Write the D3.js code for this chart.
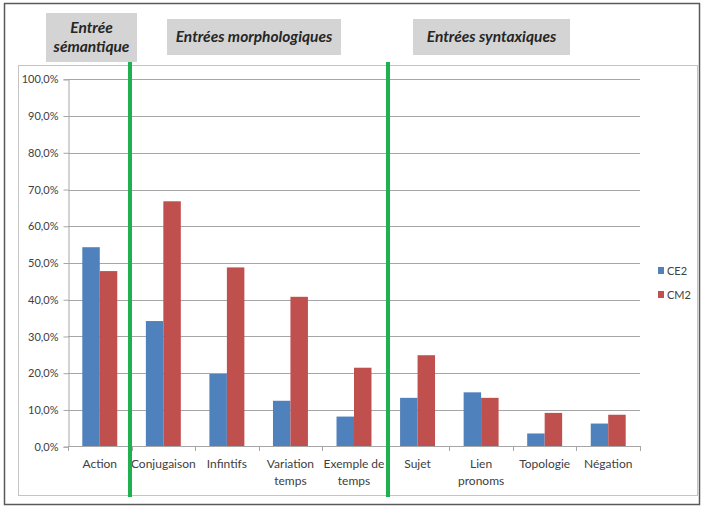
<!DOCTYPE html>
<html><head><meta charset="utf-8">
<script src="https://cdn.jsdelivr.net/npm/d3@7"></script>
<style>body{margin:0;background:#fff}svg{display:block}</style>
</head><body>
<script>
const categories = [["Action"],["Conjugaison"],["Infintifs"],["Variation","temps"],["Exemple de","temps"],["Sujet"],["Lien","pronoms"],["Topologie"],["Négation"]];
const seriesNames = ["CE2","CM2"];
const ce2 = [54.3,34.2,19.8,12.5,8.2,13.3,14.8,3.6,6.3];
const cm2 = [47.8,66.8,48.8,40.8,21.5,24.9,13.3,9.2,8.7];
const yTicks = [0,10,20,30,40,50,60,70,80,90,100];
const headers = [
  {lines:["Entrée","sémantique"]},
  {lines:["Entrées morphologiques"]},
  {lines:["Entrées syntaxiques"]}
];
const colors = ["#4f81bd","#c0504d"];

const W=703,H=508;
const svg=d3.select("body").append("svg").attr("width",W).attr("height",H);
const font="Lato, 'Open Sans', sans-serif";

svg.append("rect").attr("x",4.5).attr("y",3.5).attr("width",695).attr("height",501).attr("fill","#fff").attr("stroke","#5a5a5a").attr("stroke-width",1.5);
svg.append("rect").attr("x",18.5).attr("y",65.5).attr("width",679).attr("height",430).attr("fill","#fff").attr("stroke","#c4c4c4");

const x=d3.scaleBand().domain(d3.range(categories.length)).range([68,640]);
const y=d3.scaleLinear().domain([0,100]).range([446.7,79.3]);

svg.append("g").selectAll("line").data(yTicks.filter(d=>d>0)).join("line")
 .attr("x1",68).attr("x2",640).attr("y1",d=>Math.round(y(d))+0.5).attr("y2",d=>Math.round(y(d))+0.5)
 .attr("stroke","#a6a6a6").attr("stroke-width",1);

const yAxis=d3.axisLeft(y).tickValues(yTicks).tickSize(5).tickPadding(5)
  .tickFormat(d=>d3.format(".1f")(d).replace(".",",")+"%");
const gy=svg.append("g").attr("transform","translate(68.5,0)").call(yAxis);
gy.select(".domain").attr("stroke","#a6a6a6");
gy.selectAll(".tick line").attr("stroke","#a6a6a6");
gy.selectAll("text").attr("font-family",font).attr("font-size",11).attr("fill","#404040");

const bw=x.bandwidth()*0.275;
const g=svg.append("g");
[ce2,cm2].forEach((s,k)=>{
  g.selectAll(".b"+k).data(s).join("rect").attr("class","b"+k)
   .attr("x",(d,i)=>x(i)+x.bandwidth()/2+(k-1)*bw)
   .attr("width",bw).attr("y",d=>y(d)).attr("height",d=>y(0)-y(d)).attr("fill",colors[k]);
});

svg.append("line").attr("x1",68).attr("x2",640).attr("y1",446.5).attr("y2",446.5).attr("stroke","#a6a6a6");
svg.append("g").selectAll("line").data(d3.range(categories.length+1)).join("line")
 .attr("x1",i=>Math.round(68+i*x.step())+0.5).attr("x2",i=>Math.round(68+i*x.step())+0.5)
 .attr("y1",446).attr("y2",451).attr("stroke","#a6a6a6");
const lab=svg.append("g").selectAll("text").data(categories).join("text")
 .attr("x",(d,i)=>x(i)+x.bandwidth()/2).attr("y",468).attr("text-anchor","middle")
 .attr("font-family",font).attr("font-size",12).attr("fill","#404040");
lab.selectAll("tspan").data(d=>d).join("tspan").attr("x",function(){return this.parentNode.getAttribute("x")})
 .attr("dy",(d,i)=>i?17:0).text(d=>d);

[130,388].forEach(px=>{
  svg.append("line").attr("x1",px).attr("x2",px).attr("y1",62).attr("y2",497).attr("stroke","#1fb050").attr("stroke-width",4);
});

const boxes=[{x:46,y:13,w:91,h:49},{x:167,y:19,w:174,h:36},{x:413,y:19,w:157,h:36}];
boxes.forEach((b,i)=>{
  svg.append("rect").attr("x",b.x).attr("y",b.y).attr("width",b.w).attr("height",b.h).attr("fill","#d4d4d4");
  const t=svg.append("text").attr("text-anchor","middle").attr("font-family",font).attr("font-size",15.5)
   .attr("font-weight","bold").attr("font-style","italic").attr("fill","#262626");
  const L=headers[i].lines;
  L.forEach((s,j)=>{
    t.append("tspan").attr("x",b.x+b.w/2).attr("y",b.y+b.h/2+5+(j-(L.length-1)/2)*19).text(s);
  });
});

seriesNames.forEach((s,k)=>{
  const ly=271+k*24;
  svg.append("rect").attr("x",658).attr("y",ly-4).attr("width",6).attr("height",7).attr("fill",colors[k]);
  svg.append("text").attr("x",667).attr("y",ly+4).attr("font-family",font).attr("font-size",11).attr("fill","#404040").text(s);
});
</script>
</body></html>
